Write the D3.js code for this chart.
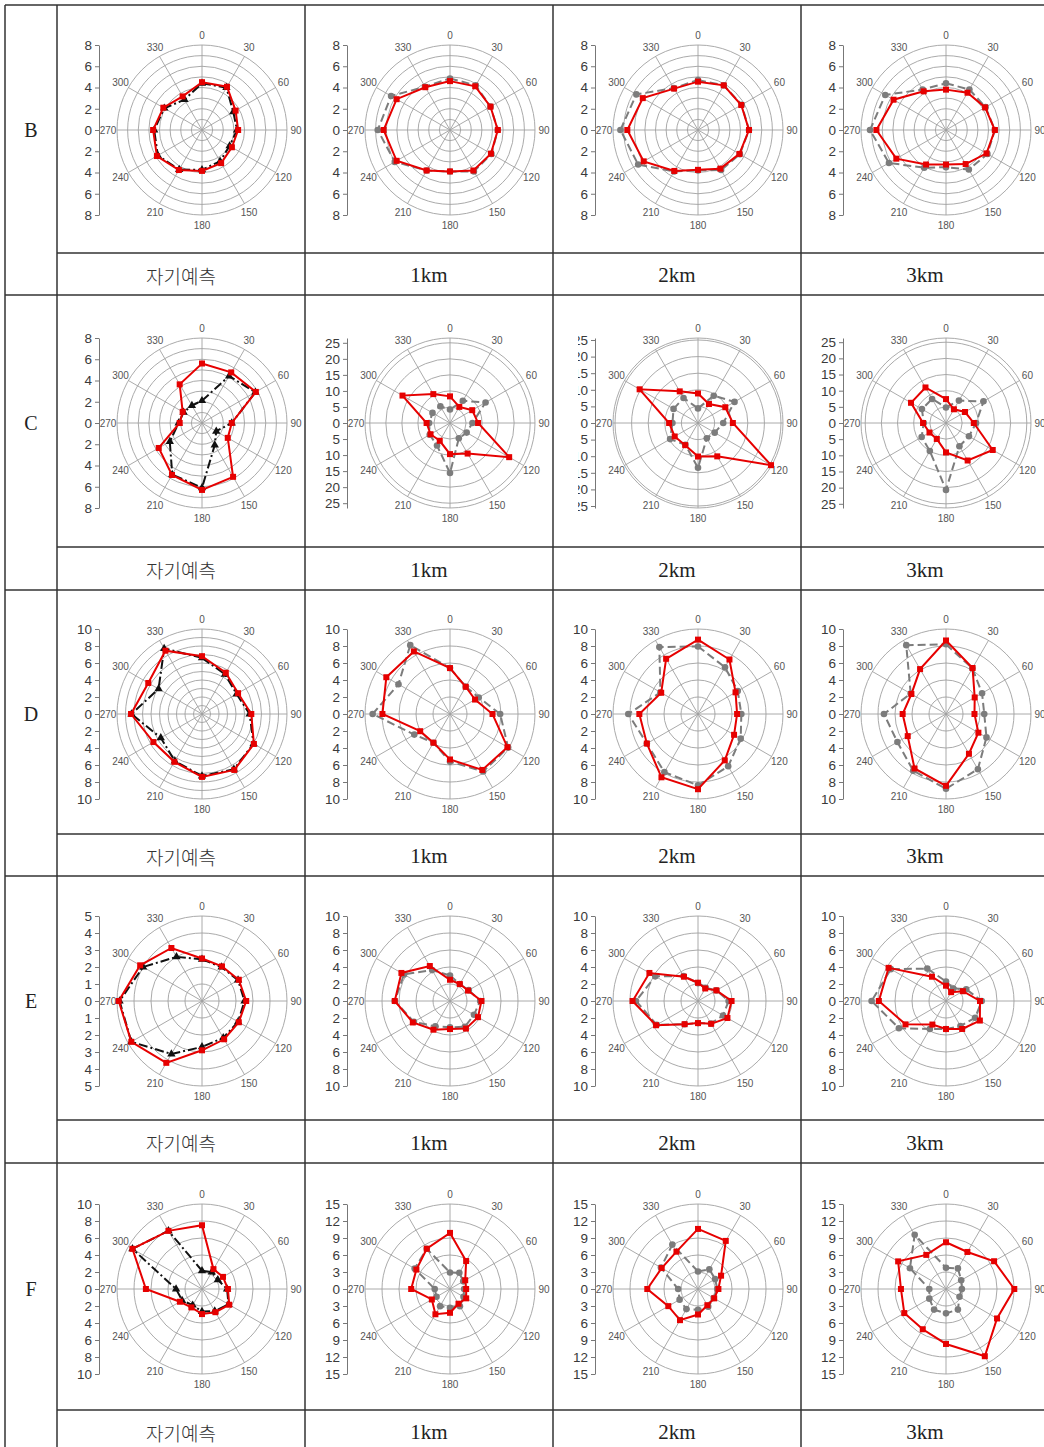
<!DOCTYPE html>
<html><head><meta charset="utf-8">
<script src="https://cdn.jsdelivr.net/npm/d3@7"></script>
<style>body{margin:0;background:#fff}svg{display:block}</style>
</head><body>
<svg id="c" width="1044" height="1447"></svg>
<script>
// ---------- data ----------
const directions = [0,30,60,90,120,150,180,210,240,270,300,330];
const rowNames = ["B","C","D","E","F"];
const columnLabels = ["자기예측","1km","2km","3km"];

// radial scale: outer radius value, axis label top, label step, ring step (per row, per column)
const radialMax = [[8,8,8,8],[8,26.5,25.6,26.3],[10,10,10,10],[5,10,10,10],[10,15,15,15]];
const labelTop  = [[8,8,8,8],[8,25,25,25],[10,10,10,10],[5,10,10,10],[10,15,15,15]];
const labelStep = [[2,2,2,2],[2,5,5,5],[2,2,2,2],[1,2,2,2],[2,3,3,3]];
const ringStep  = [[1,1,1,1],[1,5,5,5],[1,2,2,2],[1,2,2,2],[2,3,3,3]];

// red solid series (columns: self, 1km, 2km, 3km)
const redB = [
  [4.5,4.7,3.65,3.4,3.25,3.6,3.85,4.35,4.9,4.6,4.2,3.65],
  [4.6,4.75,4.4,4.5,4.45,4.4,3.9,4.4,5.8,6.25,5.8,4.65],
  [4.55,4.85,4.7,4.8,4.5,4.2,3.75,4.45,5.9,6.65,6.0,4.5],
  [3.8,4.05,4.25,4.6,4.4,3.7,3.25,3.75,5.4,6.55,5.7,4.2]];
const refB = [
  [4.4,4.6,3.4,3.3,3.0,3.4,3.75,4.3,4.8,4.5,4.1,3.3],
  [4.85,4.85,4.4,4.5,4.5,4.5,3.9,4.4,6.0,6.8,6.4,4.7],
  [4.7,4.85,4.75,4.8,4.55,4.35,3.8,4.5,6.5,7.3,6.7,4.55],
  [4.4,4.4,4.3,4.6,4.5,4.3,3.5,4.1,6.2,7.15,6.6,4.4]];
const redC = [
  [5.6,5.5,5.85,2.8,2.8,5.85,6.3,5.65,4.7,2.1,2.1,4.2],
  [8.3,5.8,8.0,8.75,21.3,11.0,9.7,6.4,7.0,7.3,17.1,10.4],
  [8.9,6.6,9.5,10.5,25.4,11.6,10.1,7.7,8.1,8.7,20.3,11.0],
  [7.4,4.9,6.8,8.6,16.7,13.4,9.1,5.7,5.9,7.1,12.5,12.7]];
const refC = [
  [2.1,5.1,5.8,2.8,1.55,2.4,6.1,5.6,3.5,2.2,2.0,1.9],
  [4.2,8.0,12.8,7.0,6.0,5.5,15.6,8.1,7.3,6.5,6.3,6.0],
  [4.4,9.5,12.7,7.6,5.8,5.3,13.5,7.6,9.7,7.7,8.5,8.7],
  [4.8,8.0,13.4,9.3,8.2,8.3,20.7,10.0,8.7,6.9,8.6,8.6]];
const redD = [
  [6.8,5.6,4.9,5.8,7.05,7.6,7.4,6.5,6.6,8.35,7.3,8.6],
  [5.4,3.7,3.4,5.0,7.8,7.6,5.35,3.9,4.05,7.95,8.65,8.5],
  [8.75,7.4,5.1,4.6,4.9,6.3,8.85,8.6,6.95,6.9,5.0,7.5],
  [8.65,6.25,3.9,3.35,4.4,5.4,8.45,7.4,5.2,5.1,4.7,6.1]];
const refD = [
  [6.6,5.4,4.7,5.6,7.0,7.5,7.3,6.4,5.6,8.3,5.9,8.9],
  [5.4,3.7,3.9,5.9,7.9,7.8,5.6,3.9,4.85,9.1,7.0,9.35],
  [7.95,6.35,5.4,5.1,5.8,7.1,8.4,7.9,6.95,8.2,5.1,9.1],
  [8.2,6.2,4.9,4.5,5.5,7.5,8.8,7.7,6.6,7.3,4.8,9.35]];
const redE = [
  [2.5,2.35,2.5,2.6,2.5,2.6,2.9,4.2,4.8,4.9,4.2,3.6],
  [2.5,2.3,2.45,3.7,3.8,3.75,3.3,3.9,5.05,6.5,6.6,4.75],
  [2.15,1.7,2.5,3.95,4.0,3.1,2.6,3.15,5.7,7.7,6.6,3.3],
  [1.8,1.2,2.3,4.0,4.6,3.8,3.3,3.2,5.5,7.9,7.8,3.3]];
const refE = [
  [2.45,2.3,2.45,2.5,2.45,2.5,2.7,3.6,4.8,4.85,4.0,3.0],
  [3.0,2.3,2.55,3.55,3.25,3.5,3.1,3.45,4.9,6.5,6.25,4.2],
  [2.1,1.8,2.5,3.6,3.4,3.05,2.6,3.15,5.6,7.3,5.8,3.4],
  [2.3,1.7,2.75,4.2,3.95,3.4,3.3,3.8,6.4,8.75,7.5,4.4]];
const redF = [
  [7.5,2.7,2.85,3.05,3.7,3.15,2.95,2.5,3.0,6.6,9.45,7.9],
  [9.9,5.7,3.1,2.85,3.3,3.0,4.2,5.15,3.7,6.85,6.85,8.2],
  [10.6,9.8,4.7,3.6,3.3,3.3,4.5,6.35,6.05,8.95,7.4,7.6],
  [8.25,7.55,9.8,12.05,10.4,13.7,9.7,8.2,8.5,7.95,9.75,6.95]];
const refF = [
  [2.15,2.3,2.15,2.95,3.6,3.0,2.65,2.2,2.7,3.05,9.45,7.9],
  [2.9,3.3,2.7,2.5,2.75,3.5,3.3,3.5,2.75,2.7,7.2,8.2],
  [3.1,4.0,3.5,3.4,3.2,3.6,3.65,4.1,3.75,3.5,7.55,9.05],
  [3.75,4.2,3.1,2.8,2.75,4.2,4.3,4.2,3.4,2.95,7.35,11.05]];
const redSeries = [redB, redC, redD, redE, redF];
const refSeries = [refB, refC, refD, refE, refF];

// ---------- layout ----------
const tableLeft = 5, tableRight = 1049, firstColRight = 57, colW = 248;
const rowTop    = [5, 295, 590, 876, 1163];
const labelTop2 = [253, 547, 834, 1120, 1410];
const rowBottom = [295, 590, 876, 1163, 1470];
const centerOffY = [125, 128, 124, 125, 126];
const centerOffX = 145;
const R = 85;

const svg = d3.select("#c");
const defs = svg.append("defs");

function drawChart(g, cx, cy, ri, ci, clipLeft) {
  const max = radialMax[ri][ci];
  const r = d3.scaleLinear().domain([0, max]).range([0, R]);
  const rings = d3.range(ringStep[ri][ci], labelTop[ri][ci] + 1e-9, ringStep[ri][ci]);
  if (clipLeft != null) {
    const id = "clip" + ri + ci;
    defs.append("clipPath").attr("id", id).append("rect")
      .attr("x", clipLeft).attr("y", cy - 130).attr("width", 400).attr("height", 260);
    g.attr("clip-path", `url(#${id})`);
  }
  // rings
  g.append("g").selectAll("circle").data(rings).join("circle")
    .attr("cx", cx).attr("cy", cy).attr("r", d => r(d))
    .attr("fill", "none").attr("stroke", "#a0a0a0").attr("stroke-width", 0.9);
  if (max - rings[rings.length - 1] > 1e-6) {
    g.append("circle").attr("cx", cx).attr("cy", cy).attr("r", R)
      .attr("fill", "none").attr("stroke", "#a0a0a0").attr("stroke-width", 0.9);
  }
  // spokes
  g.append("g").selectAll("line").data(directions).join("line")
    .attr("x1", cx).attr("y1", cy)
    .attr("x2", d => cx + R * Math.sin(d * Math.PI / 180))
    .attr("y2", d => cy - R * Math.cos(d * Math.PI / 180))
    .attr("stroke", "#a0a0a0").attr("stroke-width", 0.9);
  // angle labels
  g.append("g").selectAll("text").data(directions).join("text")
    .attr("x", d => cx + 94 * Math.sin(d * Math.PI / 180))
    .attr("y", d => cy - 95 * Math.cos(d * Math.PI / 180))
    .attr("text-anchor", "middle").attr("dominant-baseline", "central")
    .attr("font-family", "Liberation Sans, Arial, sans-serif").attr("font-size", 10)
    .attr("fill", "#555").text(d => d);
  // vertical radial axis
  const y = d3.scaleLinear().domain([-max, max]).range([cy + R, cy - R]);
  const lt = labelTop[ri][ci], ls = labelStep[ri][ci];
  const ax = g.append("g").attr("transform", `translate(${cx - 103},0)`);
  ax.call(d3.axisLeft(y).tickValues(d3.range(-lt, lt + 1e-9, ls / 4)).tickFormat("").tickSize(2).tickSizeOuter(0));
  ax.call(d3.axisLeft(y).tickValues(d3.range(-lt, lt + 1e-9, ls)).tickFormat(d => Math.abs(Math.round(d))).tickSize(4).tickSizeOuter(0));
  ax.selectAll("path,line").attr("stroke", "#777");
  ax.selectAll("text").attr("font-family", "Liberation Sans, Arial, sans-serif").attr("font-size", 13.5).attr("fill", "#3a3a3a");

  const line = d3.lineRadial()
    .angle((d, i) => directions[i] * Math.PI / 180)
    .radius(d => r(d)).curve(d3.curveLinearClosed);
  const pos = (d, i) => [cx + r(d) * Math.sin(directions[i] * Math.PI / 180), cy - r(d) * Math.cos(directions[i] * Math.PI / 180)];

  // reference (dashed) series
  const ref = refSeries[ri][ci];
  const self = ci === 0;
  const refColor = self ? "#111" : "#7c7c7c";
  g.append("path").datum(ref).attr("transform", `translate(${cx},${cy})`).attr("d", line)
    .attr("fill", "none").attr("stroke", refColor).attr("stroke-width", 2)
    .attr("stroke-dasharray", self ? "9,3,2,3" : "8,4");
  if (self) {
    g.append("g").selectAll("path").data(ref).join("path")
      .attr("transform", (d, i) => { const p = pos(d, i); return `translate(${p[0]},${p[1]})`; })
      .attr("d", d3.symbol(d3.symbolTriangle, 30)).attr("fill", refColor);
  } else {
    g.append("g").selectAll("circle").data(ref).join("circle")
      .attr("cx", (d, i) => pos(d, i)[0]).attr("cy", (d, i) => pos(d, i)[1])
      .attr("r", 3.3).attr("fill", refColor);
  }
  // red series
  const red = redSeries[ri][ci];
  g.append("path").datum(red).attr("transform", `translate(${cx},${cy})`).attr("d", line)
    .attr("fill", "none").attr("stroke", "#e60000").attr("stroke-width", 2);
  g.append("g").selectAll("rect").data(red).join("rect")
    .attr("x", (d, i) => pos(d, i)[0] - 3).attr("y", (d, i) => pos(d, i)[1] - 3)
    .attr("width", 6).attr("height", 6).attr("fill", "#e60000");
}

rowNames.forEach((name, ri) => {
  const cy = rowTop[ri] + centerOffY[ri];
  svg.append("text").attr("x", 31).attr("y", cy).attr("text-anchor", "middle")
    .attr("dominant-baseline", "central").attr("font-family", "Liberation Serif, DejaVu Serif, serif")
    .attr("font-size", 20).attr("fill", "#222").text(name);
  columnLabels.forEach((lab, ci) => {
    const left = firstColRight + ci * colW;
    const cx = left + centerOffX;
    const clip = (ri === 1 && ci === 2) ? left + 25 : null;
    drawChart(svg.append("g"), cx, cy, ri, ci, clip);
    svg.append("text").attr("x", left + colW / 2).attr("y", (labelTop2[ri] + Math.min(rowBottom[ri], 1452)) / 2 + 1)
      .attr("text-anchor", "middle").attr("dominant-baseline", "central")
      .attr("font-family", ci === 0 ? "Noto Sans CJK KR, sans-serif" : "Liberation Serif, DejaVu Serif, serif")
      .attr("font-weight", ci === 0 ? 300 : 400)
      .attr("font-size", ci === 0 ? 19 : 21).attr("fill", ci === 0 ? "#333" : "#222").text(lab);
  });
});

// table grid
const grid = svg.append("g").attr("stroke", "#333").attr("stroke-width", 1.5);
grid.append("line").attr("x1", tableLeft).attr("x2", tableRight).attr("y1", 5).attr("y2", 5);
labelTop2.forEach(y => grid.append("line").attr("x1", firstColRight).attr("x2", tableRight).attr("y1", y).attr("y2", y));
rowBottom.forEach(y => grid.append("line").attr("x1", tableLeft).attr("x2", tableRight).attr("y1", y).attr("y2", y));
[tableLeft, firstColRight, 305, 553, 801, tableRight].forEach(x =>
  grid.append("line").attr("x1", x).attr("x2", x).attr("y1", 5).attr("y2", 1470));
</script>
</body></html>
